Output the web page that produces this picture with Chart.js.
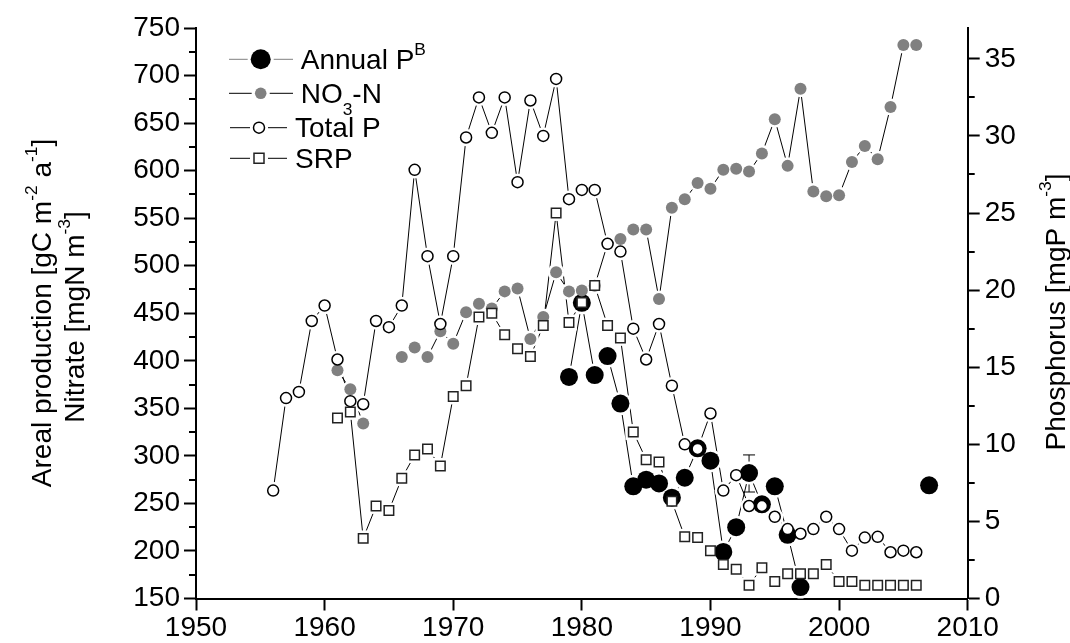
<!DOCTYPE html>
<html><head><meta charset="utf-8">
<script src="https://cdn.jsdelivr.net/npm/chart.js@4.4.0/dist/chart.umd.min.js"></script>
<style>html,body{margin:0;padding:0;background:#fff;}#wrap{width:1070px;height:643px;}</style>
</head><body><div id="wrap"><canvas id="c" width="1070" height="643"></canvas></div>
<script>
// ---------- DATA ----------
const xTicks = [1950, 1960, 1970, 1980, 1990, 2000, 2010];
const leftTicks = [150, 200, 250, 300, 350, 400, 450, 500, 550, 600, 650, 700, 750];
const leftMinorTicks = [175, 225, 275, 325, 375, 425, 475, 525, 575, 625, 675, 725];
const rightTicks = [0, 5, 10, 15, 20, 25, 30, 35];
const rightMinorTicks = [2.5, 7.5, 12.5, 17.5, 22.5, 27.5, 32.5];

// Annual P^B (left axis, gC m-2 a-1)
const ppbYears = [1979, 1980, 1981, 1982, 1983, 1984, 1985, 1986, 1987, 1988, 1989, 1990, 1991, 1992, 1993, 1994, 1995, 1996, 1997, 1998, 1999, 2000, 2001, 2002, 2003, 2004, 2005, 2006, 2007];
const ppbValues = [383, 461, 385, 405, 355, 268, 275, 271, 256, 277, 308, 295, 199, 225, 282, 249, 268, 217, 162, null, null, null, null, null, null, null, null, null, 269];
// error bar on Annual P^B
const errYears = [1993];
const errLow = [262];
const errHigh = [301];

// NO3-N (left axis, mgN m-3)
const no3Years = [1961, 1962, 1963, 1964, 1965, 1966, 1967, 1968, 1969, 1970, 1971, 1972, 1973, 1974, 1975, 1976, 1977, 1978, 1979, 1980, 1981, 1982, 1983, 1984, 1985, 1986, 1987, 1988, 1989, 1990, 1991, 1992, 1993, 1994, 1995, 1996, 1997, 1998, 1999, 2000, 2001, 2002, 2003, 2004, 2005, 2006];
const no3Values = [390, 370, 334, null, null, 404, 414, 404, 431, 418, 451, 460, 455, 473, 476, 423, 446, 493, 473, 474, 479, 523, 528, 538, 538, 465, 561, 570, 587, 581, 601, 602, 599, 618, 654, 605, 686, 578, 573, 574, 609, 626, 612, 667, 732, 732];

// Total P (right axis, mgP m-3)
const tpYears = [1956, 1957, 1958, 1959, 1960, 1961, 1962, 1963, 1964, 1965, 1966, 1967, 1968, 1969, 1970, 1971, 1972, 1973, 1974, 1975, 1976, 1977, 1978, 1979, 1980, 1981, 1982, 1983, 1984, 1985, 1986, 1987, 1988, 1989, 1990, 1991, 1992, 1993, 1994, 1995, 1996, 1997, 1998, 1999, 2000, 2001, 2002, 2003, 2004, 2005, 2006];
const tpValues = [7.0, 13.0, 13.4, 18.0, 19.0, 15.5, 12.8, 12.6, 18.0, 17.6, 19.0, 27.8, 22.2, 17.8, 22.2, 29.9, 32.5, 30.2, 32.5, 27.0, 32.3, 30.0, 33.7, 25.9, 26.5, 26.5, 23.0, 22.5, 17.5, 15.5, 17.8, 13.8, 10.0, 9.7, 12.0, 7.0, 8.0, 6.0, 6.0, 5.3, 4.5, 4.2, 4.5, 5.3, 4.5, 3.1, 3.95, 4.0, 3.0, 3.1, 3.0];

// SRP (right axis, mgP m-3)
const srpYears = [1961, 1962, 1963, 1964, 1965, 1966, 1967, 1968, 1969, 1970, 1971, 1972, 1973, 1974, 1975, 1976, 1977, 1978, 1979, 1980, 1981, 1982, 1983, 1984, 1985, 1986, 1987, 1988, 1989, 1990, 1991, 1992, 1993, 1994, 1995, 1996, 1997, 1998, 1999, 2000, 2001, 2002, 2003, 2004, 2005, 2006];
const srpValues = [11.7, 12.1, 3.9, 6.0, 5.7, 7.8, 9.3, 9.7, 8.6, 13.1, 13.8, 18.25, 18.5, 17.1, 16.2, 15.7, 17.7, 25.0, 17.9, 19.2, 20.3, 17.7, 16.9, 10.8, 9.0, 8.85, 6.3, 4.0, 3.95, 3.1, 2.2, 1.9, 0.86, 2.0, 1.1, 1.6, 1.6, 1.6, 2.2, 1.1, 1.1, 0.86, 0.86, 0.86, 0.86, 0.86];

// ---------- CHART ----------
const FONT = '"Liberation Sans", Arial, Helvetica, sans-serif';
const GRAY = '#808080';
function pts(years, vals) { return years.map((y, i) => ({ x: y, y: vals[i] })); }

const series = [
  { key: 'ppb', years: ppbYears, vals: ppbValues, axis: 'yL', style: 'circle', r: 9, bw: 0, fill: '#000', stroke: '#000', halo: 11.5 },
  { key: 'no3', years: no3Years, vals: no3Values, axis: 'yL', style: 'circle', r: 6, bw: 0, fill: GRAY, stroke: GRAY, halo: 8.5 },
  { key: 'tp', years: tpYears, vals: tpValues, axis: 'yR', style: 'circle', r: 5.5, bw: 1.5, fill: '#fff', stroke: '#000', halo: 8.7 },
  { key: 'srp', years: srpYears, vals: srpValues, axis: 'yR', style: 'rect', r: 6.7, bw: 1.5, fill: '#fff', stroke: '#222', halo: 11.2 }
];

const datasets = [];
series.forEach((s, i) => {
  datasets.push({ data: pts(s.years, s.vals), yAxisID: s.axis, borderColor: '#000', borderWidth: 1,
    pointRadius: 0, spanGaps: false, fill: false, order: 33 - i, clip: false, tension: 0 });
});
series.forEach((s, i) => {
  datasets.push({ data: pts(s.years, s.vals), yAxisID: s.axis, showLine: false,
    pointStyle: s.style, pointRadius: s.halo, pointBackgroundColor: '#fff', pointBorderWidth: 0,
    order: 23 - i, clip: false });
});
series.forEach((s, i) => {
  datasets.push({ data: pts(s.years, s.vals), yAxisID: s.axis, showLine: false,
    pointStyle: s.style, pointRadius: s.r, pointBackgroundColor: s.fill, pointBorderColor: s.stroke,
    pointBorderWidth: s.bw, order: 13 - i, clip: false });
});

function axisCommon(tickLen) {
  return {
    grid: { drawOnChartArea: false, drawTicks: true, tickLength: tickLen, tickWidth: 2, tickColor: '#000' },
    border: { display: true, width: 2, color: '#000' }
  };
}

function drawRich(ctx, parts, size, x, y, rotate, align) {
  ctx.save();
  ctx.translate(x, y);
  if (rotate) ctx.rotate(-Math.PI / 2);
  const widths = parts.map(p => {
    const fs = p.s ? size * 0.62 : size;
    ctx.font = fs + 'px ' + FONT;
    return ctx.measureText(p.t).width;
  });
  const total = widths.reduce((a, b) => a + b, 0);
  let cx = align === 'left' ? 0 : -total / 2;
  ctx.fillStyle = '#000';
  ctx.textBaseline = 'alphabetic';
  ctx.textAlign = 'left';
  parts.forEach((p, i) => {
    const fs = p.s ? size * 0.62 : size;
    ctx.font = fs + 'px ' + FONT;
    let dy = 0;
    if (p.s === 'sup') dy = -size * 0.5;
    if (p.s === 'sub') dy = size * 0.42;
    ctx.fillText(p.t, cx, dy);
    cx += widths[i];
  });
  ctx.restore();
}

const decorPlugin = {
  id: 'decor',
  beforeDatasetsDraw(chart) {
    const ctx = chart.ctx, xs = chart.scales.x, yL = chart.scales.yL;
    ctx.save();
    ctx.strokeStyle = '#000';
    ctx.lineWidth = 1;
    errYears.forEach((yr, i) => {
      const px = xs.getPixelForValue(yr);
      const lo = yL.getPixelForValue(errLow[i]), hi = yL.getPixelForValue(errHigh[i]);
      ctx.beginPath();
      ctx.moveTo(px, lo); ctx.lineTo(px, hi);
      ctx.moveTo(px - 6, hi); ctx.lineTo(px + 6, hi);
      ctx.moveTo(px - 6, lo); ctx.lineTo(px + 6, lo);
      ctx.stroke();
    });
    ctx.restore();
  },
  afterDraw(chart) {
    const ctx = chart.ctx, yL = chart.scales.yL, yR = chart.scales.yR;
    const ca = chart.chartArea;
    ctx.save();
    ctx.strokeStyle = '#000';
    ctx.lineWidth = 2;
    ctx.beginPath();
    leftMinorTicks.forEach(v => {
      const py = Math.round(yL.getPixelForValue(v));
      ctx.moveTo(ca.left - 7, py); ctx.lineTo(ca.left, py);
    });
    rightMinorTicks.forEach(v => {
      const py = Math.round(yR.getPixelForValue(v));
      ctx.moveTo(ca.right, py); ctx.lineTo(ca.right + 7, py);
    });
    ctx.stroke();
    ctx.restore();

    drawRich(ctx, [{ t: 'Areal production [gC m' }, { t: '-2', s: 'sup' }, { t: ' a' }, { t: '-1', s: 'sup' }, { t: ']' }], 28, 51, 313, true);
    drawRich(ctx, [{ t: 'Nitrate [mgN m' }, { t: '-3', s: 'sup' }, { t: ']' }], 28, 84, 317, true);
    drawRich(ctx, [{ t: 'Phosphorus [mgP m' }, { t: '-3', s: 'sup' }, { t: ']' }], 28, 1065, 312, true);

    ctx.save();
    const rows = [
      { y: 59.3, lineColor: '#808080', x1: 229, x2: 293, mx: 260.7, gap: 13, text: [{ t: 'Annual P' }, { t: 'B', s: 'sup' }], tx: 300.7 },
      { y: 93.3, lineColor: '#000', x1: 229, x2: 293, mx: 260.7, gap: 9, text: [{ t: 'NO' }, { t: '3', s: 'sub' }, { t: '-N' }], tx: 300.7 },
      { y: 127.7, lineColor: '#000', x1: 230, x2: 287, mx: 259, gap: 9, text: [{ t: 'Total P' }], tx: 295 },
      { y: 158.3, lineColor: '#000', x1: 230, x2: 287, mx: 259, gap: 9, text: [{ t: 'SRP' }], tx: 295 }
    ];
    rows.forEach((r, i) => {
      ctx.strokeStyle = r.lineColor;
      ctx.lineWidth = 1;
      ctx.beginPath();
      ctx.moveTo(r.x1, r.y); ctx.lineTo(r.mx - r.gap, r.y);
      ctx.moveTo(r.mx + r.gap, r.y); ctx.lineTo(r.x2, r.y);
      ctx.stroke();
      ctx.beginPath();
      if (i === 0) {
        ctx.fillStyle = '#000'; ctx.arc(r.mx, r.y, 10, 0, Math.PI * 2); ctx.fill();
      } else if (i === 1) {
        ctx.fillStyle = GRAY; ctx.arc(r.mx, r.y, 5.8, 0, Math.PI * 2); ctx.fill();
      } else if (i === 2) {
        ctx.fillStyle = '#fff'; ctx.strokeStyle = '#000'; ctx.lineWidth = 1.5;
        ctx.arc(r.mx, r.y, 5.5, 0, Math.PI * 2); ctx.fill(); ctx.stroke();
      } else {
        ctx.fillStyle = '#fff'; ctx.strokeStyle = '#222'; ctx.lineWidth = 1.5;
        ctx.rect(r.mx - 5, r.y - 5, 10, 10); ctx.fill(); ctx.stroke();
      }
      drawRich(ctx, r.text, 28, r.tx, r.y + 9.5, false, 'left');
    });
    ctx.restore();
  }
};

const tickFont = { family: FONT, size: 28 };
new Chart(document.getElementById('c'), {
  type: 'line',
  data: { datasets },
  plugins: [decorPlugin],
  options: {
    responsive: false,
    animation: false,
    events: [],
    layout: { padding: { top: 28, left: 0, right: 0, bottom: 0 } },
    plugins: { legend: { display: false }, tooltip: { enabled: false } },
    scales: {
      x: Object.assign(axisCommon(12), {
        type: 'linear', position: 'bottom', min: 1950, max: 2010,
        afterBuildTicks: s => { s.ticks = xTicks.map(v => ({ value: v })); },
        afterFit: s => { s.height = 44.5; },
        ticks: { font: tickFont, color: '#000', padding: 1, maxRotation: 0, autoSkip: false, callback: v => String(v) }
      }),
      yL: Object.assign(axisCommon(12), {
        type: 'linear', position: 'left', min: 150, max: 750,
        afterBuildTicks: s => { s.ticks = leftTicks.map(v => ({ value: v })); },
        afterFit: s => { s.width = 196; },
        ticks: { font: tickFont, color: '#000', padding: 4, autoSkip: false, callback: v => String(v) }
      }),
      yR: Object.assign(axisCommon(12), {
        type: 'linear', position: 'right', min: 0, max: 37,
        afterBuildTicks: s => { s.ticks = rightTicks.map(v => ({ value: v })); },
        afterFit: s => { s.width = 102.3; },
        ticks: { font: tickFont, color: '#000', padding: 5, autoSkip: false, callback: v => String(v) }
      })
    }
  }
});
</script>
</body></html>
